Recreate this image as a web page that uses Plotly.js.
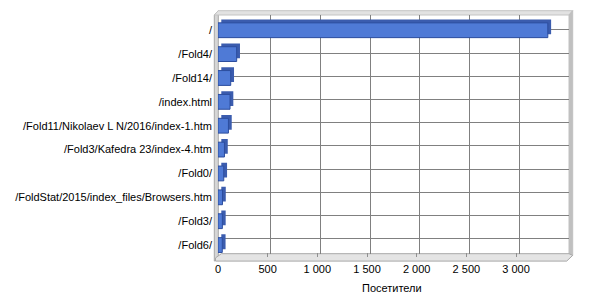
<!DOCTYPE html>
<html>
<head>
<meta charset="utf-8">
<script src="https://cdn.plot.ly/plotly-3.0.1.min.js"></script>
<style>html,body{margin:0;padding:0;background:#fff;}#chart{width:600px;height:300px;}</style>
</head>
<body>
<div id="chart"></div>
<script>
// ---- data ----
const pages = [
  "/",
  "/Fold4/",
  "/Fold14/",
  "/index.html",
  "/Fold11/Nikolaev L N/2016/index-1.htm",
  "/Fold3/Kafedra 23/index-4.htm",
  "/Fold0/",
  "/FoldStat/2015/index_files/Browsers.htm",
  "/Fold3/",
  "/Fold6/"
];
const visitors = [3320, 188, 128, 121, 105, 65, 58, 45, 44, 43];
const xTickValues = [0, 500, 1000, 1500, 2000, 2500, 3000];
const xTitle = "Посетители";

// ---- geometry (pixels) ----
const W = 600, H = 300;
const PL = 218, PR = 569, PT = 15, PB = 256.6;   // overall plotting box
const DEPTH = 3.3;                                // 3D depth offset in px
const fx = X => (X - PL) / (PR - PL);
const fy = Y => (PB - Y) / (PB - PT);
const pw = PR - PL, ph = PB - PT;

const XMAX = 3500;
const unitsPerPx = XMAX / (pw - DEPTH);
const catPx = (ph - DEPTH) / pages.length;

const font = {family: "Liberation Sans, Arial, sans-serif", size: 11, color: "#000"};

// back wall (gridlines) on x/y, bars on x2/y2 (front plane)
const backTrace = {
  type: "scatter", mode: "markers",
  x: visitors, y: pages, xaxis: "x", yaxis: "y",
  marker: {opacity: 0, size: 1}, hoverinfo: "skip", showlegend: false
};
const depthTrace = {
  type: "bar", orientation: "h",
  x: visitors, y: pages, xaxis: "x2", yaxis: "y2",
  base: DEPTH * unitsPerPx,
  width: 0.62, offset: -0.31 - DEPTH / catPx,
  marker: {color: "#3b5cae", line: {width: 0}},
  hoverinfo: "skip", showlegend: false
};
const frontTrace = {
  type: "bar", orientation: "h",
  x: visitors, y: pages, xaxis: "x2", yaxis: "y2",
  width: 0.62, offset: -0.31,
  marker: {color: "#4f7ad6", line: {color: "#2c4d9e", width: 1}},
  showlegend: false
};

function path(pts) {
  return "M" + pts.map(p => fx(p[0]).toFixed(5) + "," + fy(p[1]).toFixed(5)).join(" L") + " Z";
}

const shapes = [
  // left wall
  {type: "path", xref: "paper", yref: "paper", layer: "below",
   path: path([[214.3, 15], [218.3, 10.7], [218.3, 257], [214.3, 260.7]]),
   fillcolor: "#d6d6d6", line: {color: "#a8a8a8", width: 1}},
  // top edge
  {type: "path", xref: "paper", yref: "paper", layer: "below",
   path: path([[214.3, 15], [218.3, 10.7], [572.7, 10.7], [569, 15]]),
   fillcolor: "#e2e2e2", line: {color: "#c4c4c4", width: 1}},
  // right wall
  {type: "path", xref: "paper", yref: "paper", layer: "below",
   path: path([[569, 15], [572.7, 10.7], [572.7, 255], [569, 257]]),
   fillcolor: "#c0c0c0", line: {color: "#c0c0c0", width: 1}},
  // floor
  {type: "path", xref: "paper", yref: "paper", layer: "below",
   path: path([[215.5, 257.5], [221.3, 253.3], [569, 253.3], [572.7, 255], [566.7, 260.7], [215.5, 260.7]]),
   fillcolor: "#e4e4e4", line: {color: "#a8a8a8", width: 1}}
];

const layout = {
  width: W, height: H,
  margin: {l: PL, r: W - PR, t: PT, b: H - PB, pad: 0},
  paper_bgcolor: "#ffffff", plot_bgcolor: "rgba(0,0,0,0)",
  font: font,
  separators: ", ",
  showlegend: false,
  barmode: "overlay",
  shapes: shapes,
  xaxis: {
    domain: [DEPTH / pw, 1], range: [0, XMAX], dtick: 500, anchor: "y",
    showgrid: true, gridcolor: "#808080", gridwidth: 1,
    zeroline: false, showline: false, showticklabels: false, ticks: "",
    fixedrange: true
  },
  yaxis: {
    domain: [DEPTH / ph, 1], type: "category", autorange: "reversed", anchor: "x",
    showgrid: true, gridcolor: "#808080", gridwidth: 1,
    zeroline: false, showline: false, showticklabels: false, ticks: "",
    fixedrange: true
  },
  xaxis2: {
    domain: [0, 1 - DEPTH / pw], range: [0, XMAX], anchor: "y2",
    tickmode: "array", tickvals: xTickValues,
    showgrid: false, zeroline: false, showline: false,
    ticks: "inside", ticklen: 4, tickcolor: "#909090",
    separatethousands: true, tickfont: font, ticklabelstandoff: 4,
    title: {text: xTitle, font: font, standoff: 10},
    fixedrange: true
  },
  yaxis2: {
    domain: [0, 1 - DEPTH / ph], type: "category", autorange: "reversed", anchor: "x2",
    showgrid: false, zeroline: false, showline: false, ticks: "",
    tickfont: font, ticklabelstandoff: 5,
    fixedrange: true
  }
};

Plotly.newPlot("chart", [backTrace, depthTrace, frontTrace], layout, {displayModeBar: false, staticPlot: true});
</script>
</body>
</html>
